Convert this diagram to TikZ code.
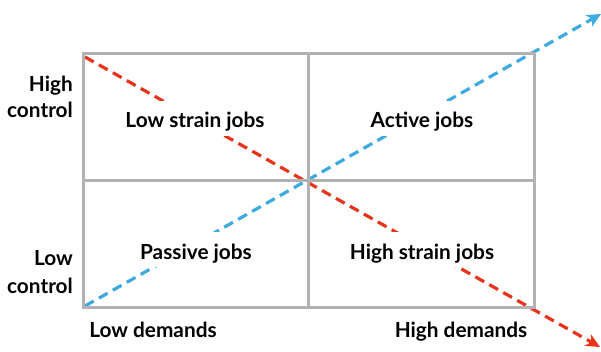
\documentclass[tikz,border=0pt]{standalone}
\usepackage{fontspec}
\setmainfont{Lato}
\usetikzlibrary{arrows.meta}
\definecolor{gridgray}{RGB}{178,178,178}
\definecolor{strainred}{RGB}{232,52,28}
\definecolor{activeblue}{RGB}{61,170,224}
\begin{document}
\begin{tikzpicture}[x=1pt,y=-1pt,
  gridline/.style={draw=gridgray,line width=3pt},
  diag/.style={line width=3.2pt,dash pattern=on 10pt off 6pt,-{Stealth[length=14pt,width=13pt,inset=4pt]}},
  quad/.style={fill=white,anchor=base,text height=26pt,text depth=7pt,inner xsep=2pt,inner ysep=1pt,font=\bfseries\fontsize{20.8}{24}\selectfont},
  axislabel/.style={anchor=base,inner sep=0pt,font=\bfseries\fontsize{20.8}{24}\selectfont}]
\useasboundingbox (0,0) rectangle (601,352);
% diagonal connectors
\coordinate (rs) at (85,57);
\coordinate (re) at (600,347);
\coordinate (bs) at (85,306);
\coordinate (be) at (601,14);
\draw[diag,strainred] (rs) -- (re);
\draw[diag,activeblue] (bs) -- (be);
% grid
\draw[gridline] (83,54) rectangle (534,307);
\draw[gridline] (308,54) -- (308,307);
\draw[gridline] (83,181) -- (534,181);
% quadrant labels
\node[quad] (lowstrain) at (195,128) {Low strain jobs};
\node[quad] (active) at (422,128) {Active jobs};
\node[quad] (passive) at (196,259) {Passive jobs};
\node[quad] (highstrain) at (422,259) {High strain jobs};
% axis labels
\node[axislabel,anchor=base east] (hc1) at (73,92) {High};
\node[axislabel,anchor=base east] (hc2) at (73,118) {control};
\node[axislabel,anchor=base east] (lc1) at (73,265) {Low};
\node[axislabel,anchor=base east] (lc2) at (73,293) {control};
\node[axislabel] (lowdem) at (153,337) {Low demands};
\node[axislabel] (highdem) at (461,337) {High demands};
\end{tikzpicture}
\end{document}
